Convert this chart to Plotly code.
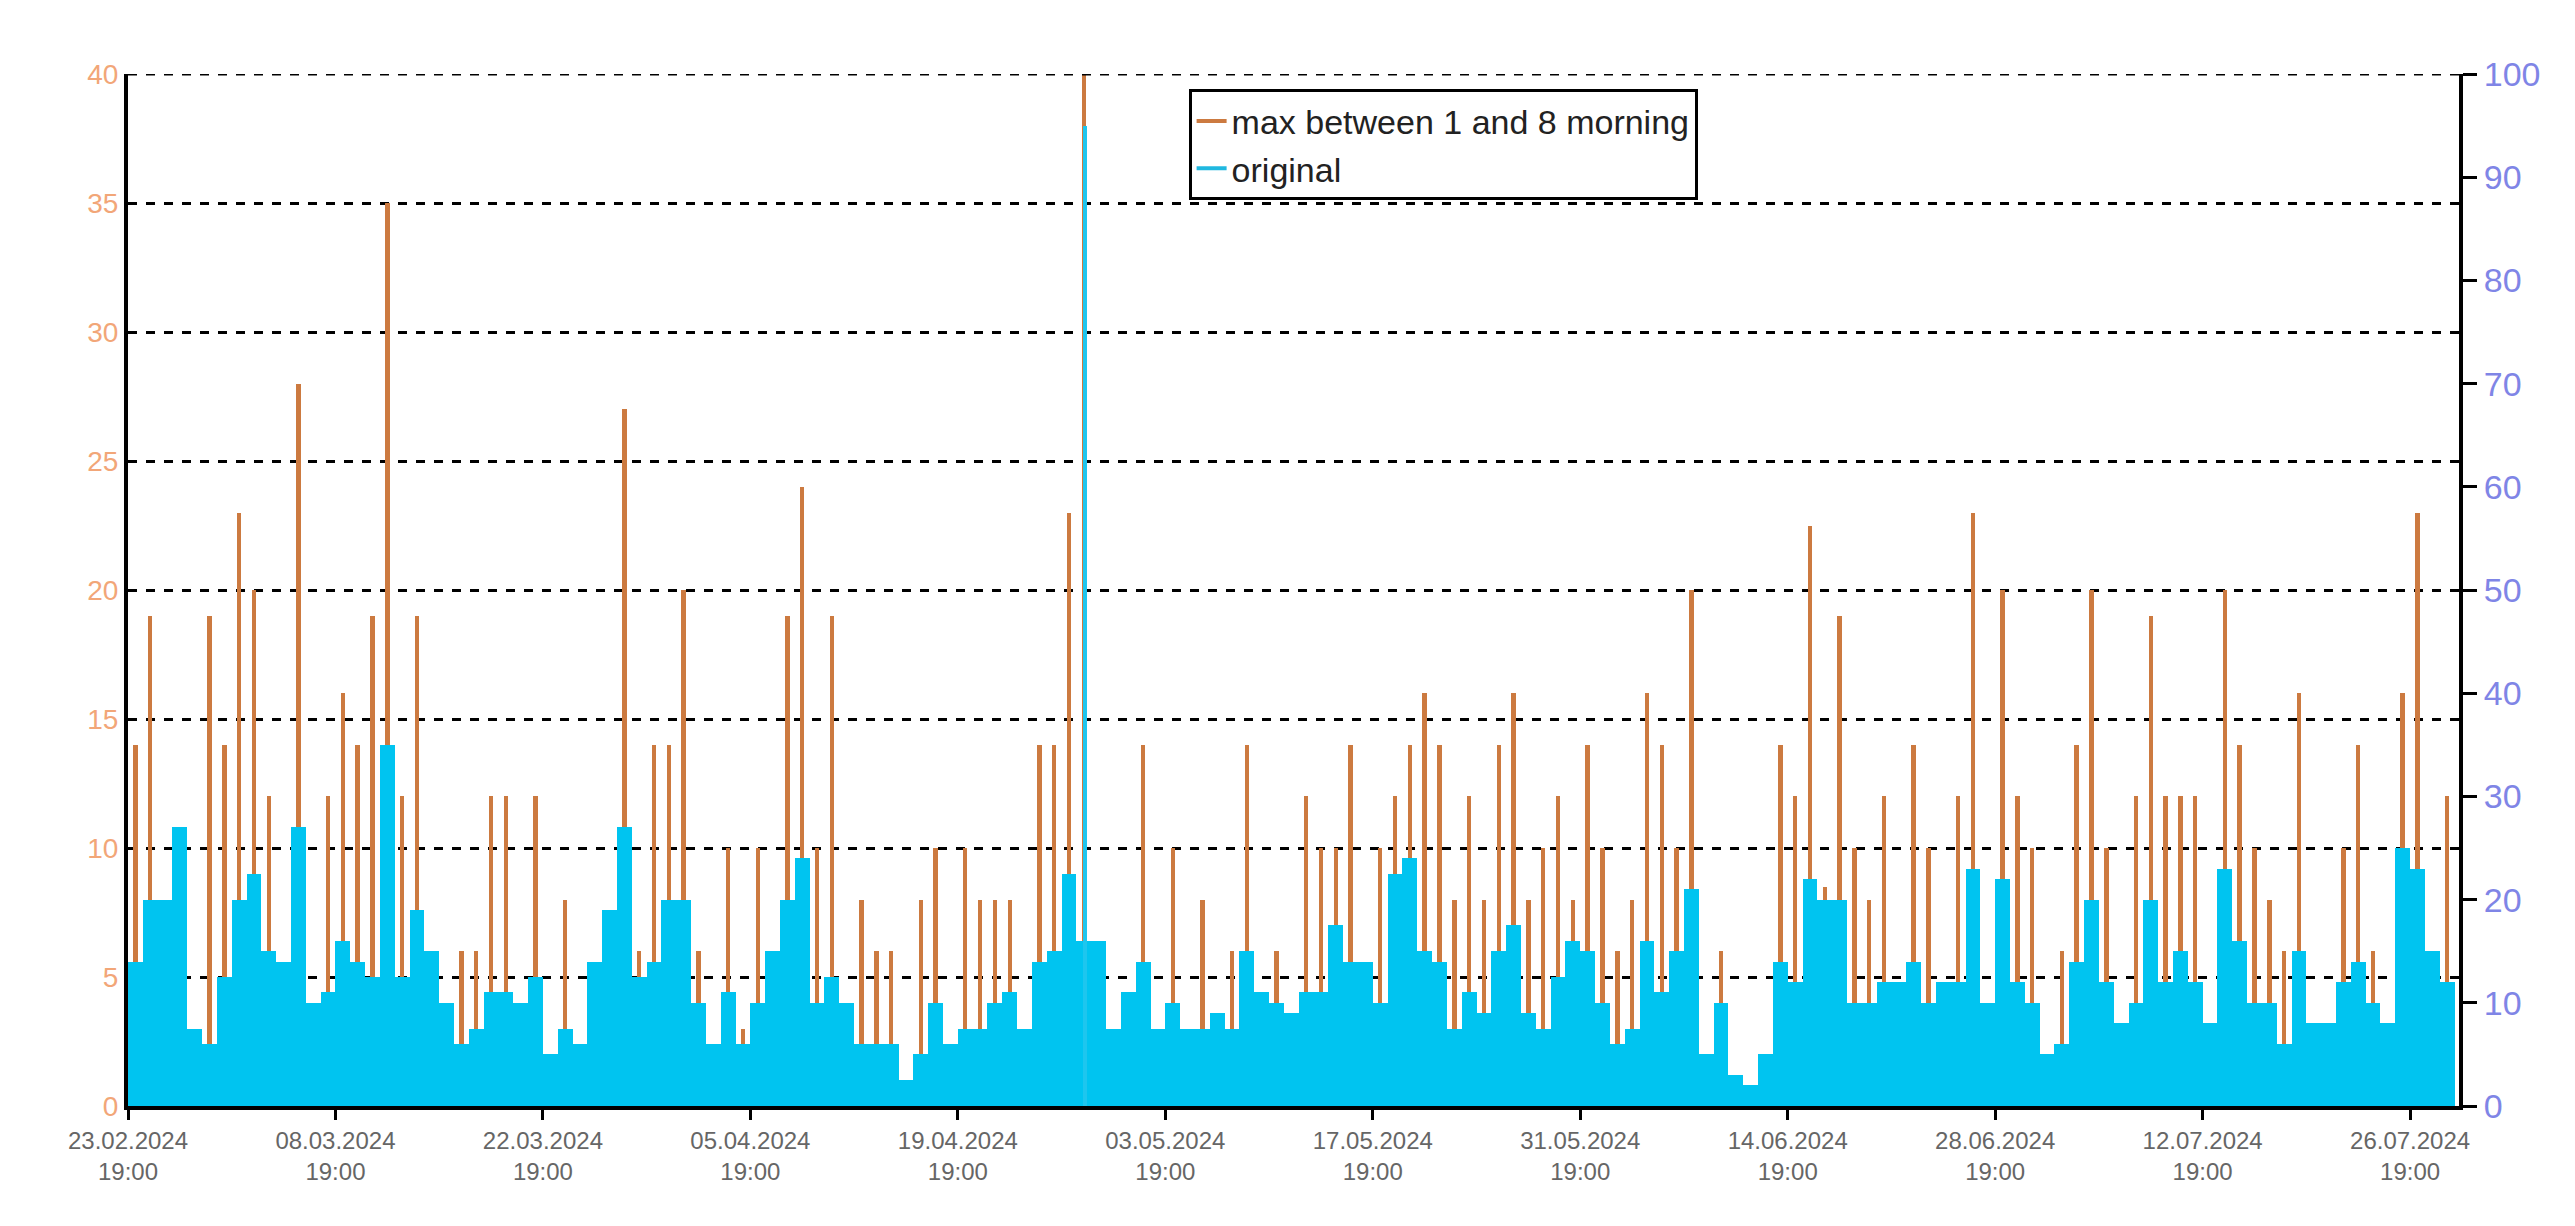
import datetime as dt
import plotly.graph_objects as go

# daily values, day 0 = 23.02.2024 19:00
start = dt.datetime(2024, 2, 23, 19, 0)

# max between 1 and 8 morning (left axis)
max_morning = [
    14, 19, 0, 0, 0, 19, 14, 23, 20, 12,
    0, 28, 0, 12, 16, 14, 19, 35, 12, 19,
    0, 0, 6, 6, 12, 12, 0, 12, 2, 8,
    0, 0, 0, 27, 6, 14, 14, 20, 6, 0,
    10, 3, 10, 0, 19, 24, 10, 19, 0, 8,
    6, 6, 0, 8, 10, 0, 10, 8, 8, 8,
    0, 14, 14, 23, 40, 0, 0, 0, 14, 0,
    10, 0, 8, 0, 6, 14, 0, 6, 0, 12,
    10, 10, 14, 0, 10, 12, 14, 16, 14, 8,
    12, 8, 14, 16, 8, 10, 12, 8, 14, 10,
    6, 8, 16, 14, 10, 20, 0, 6, 0, 0,
    0, 14, 12, 22.5, 8.5, 19, 10, 8, 12, 0,
    14, 10, 0, 12, 23, 0, 20, 12, 10, 0,
    6, 14, 20, 10, 0, 12, 19, 12, 12, 12,
    0, 20, 14, 10, 8, 6, 16, 0, 0, 10,
    14, 6, 3, 16, 23, 0, 12,
]

# original (right axis), daily envelope
original = [
    14, 20, 20, 27, 7.5, 6, 12.5, 20, 22.5, 15,
    14, 27, 10, 11, 16, 14, 12.5, 35, 12.5, 19,
    15, 10, 6, 7.5, 11, 11, 10, 12.5, 5, 7.5,
    6, 14, 19, 27, 12.5, 14, 20, 20, 10, 6,
    11, 6, 10, 15, 20, 24, 10, 12.5, 10, 6,
    6, 6, 2.5, 5, 10, 6, 7.5, 7.5, 10, 11,
    7.5, 14, 15, 22.5, 16, 16, 7.5, 11, 14, 7.5,
    10, 7.5, 7.5, 9, 7.5, 15, 11, 10, 9, 11,
    11, 17.5, 14, 14, 10, 22.5, 24, 15, 14, 7.5,
    11, 9, 15, 17.5, 9, 7.5, 12.5, 16, 15, 10,
    6, 7.5, 16, 11, 15, 21, 5, 10, 3, 2,
    5, 14, 12, 22, 20, 20, 10, 10, 12, 12,
    14, 10, 12, 12, 23, 10, 22, 12, 10, 5,
    6, 14, 20, 12, 8, 10, 20, 12, 15, 12,
    8, 23, 16, 10, 10, 6, 15, 8, 8, 12,
    14, 10, 8, 25, 23, 15, 12,
]

peak_day = [64.6]
peak_value = [95]

tick_days = list(range(0, 155, 14))

day_ms = 86400000
x_bar = [start + dt.timedelta(days=d + 0.5) for d in range(len(max_morning))]
x_peak = [start + dt.timedelta(days=d) for d in peak_day]
tick_vals = [start + dt.timedelta(days=d) for d in tick_days]
tick_text = [(start + dt.timedelta(days=d)).strftime("%d.%m.%Y") + "<br>19:00" for d in tick_days]

orange = "#cc7a40"
cyan = "#00c4f0"

fig = go.Figure()
fig.add_trace(go.Bar(x=x_bar, y=max_morning, width=day_ms * 0.3,
                     marker=dict(color=orange, line_width=0), showlegend=False))
fig.add_trace(go.Bar(x=x_bar, y=original, width=day_ms * 1.0, yaxis="y2",
                     marker=dict(color=cyan, line_width=0), showlegend=False))
fig.add_trace(go.Bar(x=x_peak, y=peak_value, width=day_ms * 0.25, yaxis="y2",
                     marker=dict(color="#1ec6ee", line_width=0), showlegend=False))
# legend entries drawn as short lines
fig.add_trace(go.Scatter(x=[None], y=[None], mode="lines", line=dict(color=orange, width=4),
                         name="max between 1 and 8 morning"))
fig.add_trace(go.Scatter(x=[None], y=[None], mode="lines", line=dict(color="#20b8e0", width=4),
                         name="original"))

# dashed line along the top (40)
fig.add_hline(y=40, line=dict(color="black", width=3, dash="dash"))

fig.update_layout(
    width=2575, height=1226,
    paper_bgcolor="white", plot_bgcolor="white",
    barmode="overlay", bargap=0,
    margin=dict(l=120, r=124, t=66, b=128),
    font=dict(family="Liberation Sans, Arial", size=22, color="#555"),
    xaxis=dict(range=[start, start + dt.timedelta(days=157.3)],
               tickvals=tick_vals, ticktext=tick_text,
               tickfont=dict(size=24, color="#666"),
               showgrid=False, showline=True, linecolor="black", linewidth=4,
               ticks="outside", ticklen=10, tickwidth=3, tickcolor="black"),
    yaxis=dict(range=[0, 40], dtick=5, tickfont=dict(size=28, color="#f2a678"),
               showgrid=True, gridcolor="black", gridwidth=3, griddash="dash",
               showline=True, linecolor="black", linewidth=4, zeroline=False),
    yaxis2=dict(range=[0, 100], dtick=10, overlaying="y", side="right",
                tickfont=dict(size=34, color="#7f85e6"), showgrid=False,
                showline=True, linecolor="black", linewidth=4,
                ticks="outside", ticklen=14, tickwidth=3, tickcolor="black"),
    legend=dict(x=0.455, y=0.985, xanchor="left", yanchor="top",
                bgcolor="white", bordercolor="black", borderwidth=3,
                font=dict(size=34, color="#222"), traceorder="normal"),
)

fig.write_html("out.html")
